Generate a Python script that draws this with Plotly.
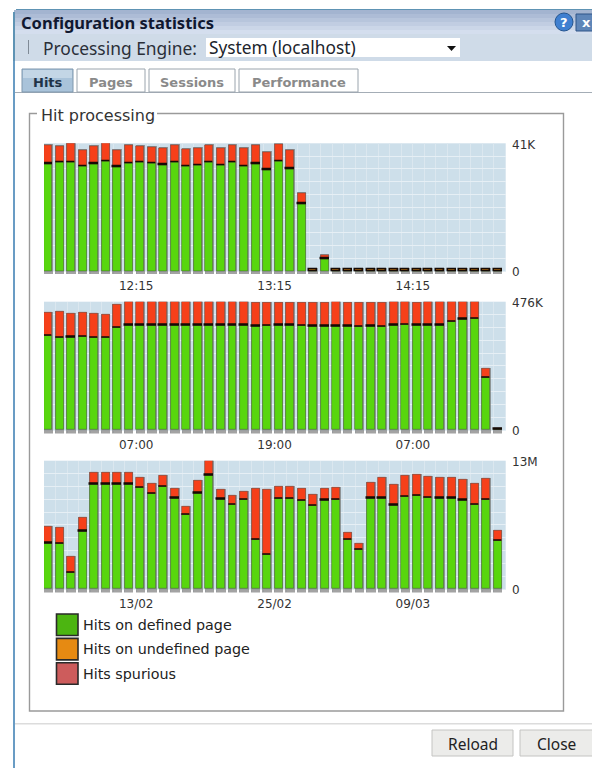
import plotly.graph_objects as go

W, H = 592, 768
FONT = "DejaVu Sans"
UI = "Noto Sans"

# ---------- data ----------
hours_defined = [34.4,34.8,34.9,33.5,34.4,35.2,33.4,34.5,34.8,34.5,34.0,34.8,33.5,33.9,34.8,33.9,34.8,33.5,34.4,32.4,35.2,32.8,21.5,0,3.9,
                 0,0,0,0,0,0,0,0,0,0,0,0,0,0,0]
hours_undefined = [0.1]*23 + [0.5, 0.1] + [0.5]*15
hours_spurious = [5.8,5.0,6.1,5.1,5.4,6.0,5.1,5.7,5.1,5.2,5.4,5.4,5.4,5.4,5.4,5.5,5.4,5.9,5.7,5.6,5.4,5.8,3.5,0,1.0,
                  0,0,0,0,0,0,0,0,0,0,0,0,0,0,0]
days_defined = [348.6,342.4,343.6,346.1,341.1,341.1,378.2,388.1,388.1,388.1,388.1,388.1,388.1,388.1,388.1,388.1,388.1,388.1,
                384.4,385.6,388.1,388.1,385.6,384.4,384.4,384.4,384.4,383.2,384.4,383.2,388.1,389.3,388.1,388.1,388.1,401.7,410.4,412.8,192.8,0]
days_undefined = [1.0]*39 + [5.5]
days_spurious = [86.5,93.9,85.3,87.8,87.8,86.5,85.3,86.5,86.5,86.5,86.5,86.5,86.5,86.5,86.5,86.5,86.5,85.3,
                 85.3,85.3,84.0,84.0,85.3,86.5,86.5,93.9,85.3,86.5,85.3,86.5,85.3,86.5,84.0,86.5,86.5,74.2,64.3,63.0,33.4,0]
months_defined = [4.63,4.56,1.65,5.84,10.60,10.60,10.60,10.60,10.27,9.62,10.37,9.19,7.50,9.69,11.52,9.08,8.54,9.05,5.00,3.44,
                  9.12,9.12,8.92,8.41,8.98,9.05,5.00,3.98,9.19,9.19,8.48,9.32,9.46,9.25,9.19,9.19,8.98,8.51,9.05,4.90]
months_undefined = [0.04]*40
months_spurious = [1.69,1.65,1.59,1.35,1.18,1.18,1.18,1.18,1.01,1.01,1.05,0.95,0.84,1.22,1.52,0.91,0.88,0.81,5.17,6.62,
                   1.25,1.22,1.22,1.11,1.18,1.22,0.71,0.57,1.59,2.09,2.06,2.09,2.09,2.06,2.09,2.09,2.06,2.09,2.09,0.98]

hours_ticks = ["12:15", "13:15", "14:15"]
days_ticks = ["07:00", "19:00", "07:00"]
months_ticks = ["13/02", "25/02", "09/03"]
tick_slots = [8, 20, 32]
y_labels = [["0", "41K"], ["0", "476K"], ["0", "13M"]]
y_maxima = [41, 476, 13]
legend_names = ["Hits on defined page", "Hits on undefined page", "Hits spurious"]
legend_colors = ["#4cb511", "#e68a12", "#cd5c5c"]

GREEN, ORANGE, RED = "#58d60e", "#e68a12", "#f6401a"
PANELS = [
    (hours_defined, hours_undefined, hours_spurious, hours_ticks, 143.3, 271.0),
    (days_defined, days_undefined, days_spurious, days_ticks, 301.7, 430.0),
    (months_defined, months_undefined, months_spurious, months_ticks, 460.7, 589.0),
]
LEFT, RIGHT = 44.0, 505.7
PITCH = (RIGHT - LEFT) / 40.05
X0 = -0.35
STUB = 3.4      # px of shadow under the baseline

fig = go.Figure()
layout = {}
xs = list(range(40))
masks = []

for i, (g, u, r, labels, top, bottom) in enumerate(PANELS):
    n = "" if i == 0 else str(i + 1)
    xa, ya = "x" + n, "y" + n
    ymax = y_maxima[i]
    unit = ymax / (bottom - top)            # data units per pixel
    total = [a + b + c for a, b, c in zip(g, u, r)]
    below = STUB * unit
    above = 1.0 * unit
    masks.append((bottom + 0.5, bottom + STUB + 1))

    # grey drop shadow behind each stack, stub under the baseline
    fig.add_trace(go.Bar(x=xs, y=[t + above + below for t in total], base=[-below] * 40, width=0.82,
                         marker=dict(color="rgba(120,120,120,0.68)", line=dict(width=0)),
                         xaxis=xa, yaxis=ya, cliponaxis=False, hoverinfo="skip", showlegend=False))
    fig.add_trace(go.Bar(x=xs, y=g, base=[0] * 40, width=0.69, name=legend_names[0],
                         marker=dict(color=GREEN, line=dict(width=0.8, color="rgba(70,100,50,0.7)")),
                         xaxis=xa, yaxis=ya, cliponaxis=False, showlegend=False))
    fig.add_trace(go.Bar(x=xs, y=r, base=[a + b for a, b in zip(g, u)], width=0.69, name=legend_names[2],
                         marker=dict(color=RED, line=dict(width=0.8, color="rgba(110,70,60,0.7)")),
                         xaxis=xa, yaxis=ya, cliponaxis=False, showlegend=False))
    fig.add_trace(go.Bar(x=xs, y=u, base=g, width=0.69, name=legend_names[1],
                         marker=dict(color=ORANGE, line=dict(width=1.5, color="#150a05")),
                         xaxis=xa, yaxis=ya, cliponaxis=False, showlegend=False))

    slots = [X0 + k for k in range(41)]
    text = [""] * 41
    for s, lab in zip(tick_slots, labels):
        text[s] = lab
    ysteps = [ymax * k / 10 for k in range(11)]
    ytext = [""] * 11
    ytext[0], ytext[10] = y_labels[i]

    layout["xaxis" + n] = dict(domain=[LEFT / W, RIGHT / W], range=[X0, X0 + (RIGHT - LEFT) / PITCH],
                               anchor=ya, tickmode="array", tickvals=slots, ticktext=text, showgrid=True,
                               gridcolor="#dbe7ef", gridwidth=1, zeroline=False, showline=False,
                               ticks="outside", ticklen=0, tickcolor="rgba(0,0,0,0)", tickangle=0,
                               tickfont=dict(family=FONT, size=12, color="#333333"), fixedrange=True)
    layout["yaxis" + n] = dict(domain=[1 - (bottom + STUB) / H, 1 - top / H], range=[-below, ymax], anchor=xa,
                               side="right", tickmode="array", tickvals=ysteps, ticktext=ytext, showgrid=True,
                               gridcolor="#e6eff5", gridwidth=1.3, zeroline=False, showline=False,
                               ticks="outside", ticklen=3, tickcolor="rgba(0,0,0,0)", ticklabelshift=1,
                               tickfont=dict(family=FONT, size=12, color="#333333"), fixedrange=True)

# ---------- window chrome ----------
shapes, notes = [], []


def rect(x0, y0, x1, y1, fill, line=None, lw=1):
    shapes.append(dict(type="rect", xref="paper", yref="paper", layer="below",
                       x0=x0 / W, x1=x1 / W, y0=1 - y0 / H, y1=1 - y1 / H, fillcolor=fill,
                       line=dict(color=line or "rgba(0,0,0,0)", width=lw if line else 0)))


def label(x, y, s, size=12, color="#222222", fam=FONT, bold=False, anchor="left"):
    notes.append(dict(xref="paper", yref="paper", x=x / W, y=1 - y / H, text=f"<b>{s}</b>" if bold else s,
                      showarrow=False, xanchor=anchor, yanchor="middle",
                      font=dict(family=fam, size=size, color=color), borderpad=0, borderwidth=0))


# white strip hiding the plot background behind the shadow stubs
for y0, y1 in masks:
    rect(LEFT - 1, y0, RIGHT + 1, y1, "#ffffff")

# title bar gradient
bar = ["#a3b4d0", "#adbcd6", "#b7c5dc", "#c1cde2", "#cbd6e8", "#d4deee"]
rect(14, 10, W, 34, "#d4deee")
for k, c in enumerate(bar):
    rect(14, 10 + k * 4, W, 14 + k * 4, c)
rect(16, 9, W, 10, "#5e93b4")
# toolbar
rect(15, 34, W, 61, "#cfdbe8")
rect(28, 40, 29, 54, "#7f8a96")
rect(206, 38, 460, 57, "#ffffff")
# tabs
rect(15, 92, W, 93, "#a4adb6")
tab_edges = [(22, 73), (77, 145), (149, 235), (239, 358)]
for k, (a, b) in enumerate(tab_edges):
    if k == 0:
        rect(a, 69, b, 92, "#a9c3da", "#7e97ad", 1)
        rect(a + 1, 70, b - 1, 78, "#c3d6e6")
    else:
        rect(a, 69, b, 92, "#ffffff", "#9aa4ad", 1)
# left border
rect(13, 61, 15, H, "#699cc4")
rect(13, 12, 15, 61, "#5e93b4")
# group box (no fill, so the plot backgrounds stay visible)
rect(29.5, 113.5, 563.5, 711, "rgba(0,0,0,0)", "#9a9a9a", 1.4)
rect(37, 106, 157, 122, "#ffffff")
# legend swatches
for k, c in enumerate(legend_colors):
    rect(56.5, 614 + k * 24.4, 78, 635.5 + k * 24.4, c, "#2a2a2a", 1.6)
# footer line and buttons
rect(15, 723, W, 724.5, "#dcdcdc")
rect(432, 730, 513, 756, "#ececea", "#c4c4c2", 1)
rect(520, 730, 600, 756, "#ececea", "#c4c4c2", 1)
# help / close icons
shapes.append(dict(type="circle", xref="paper", yref="paper", layer="below", x0=555 / W, x1=573 / W,
                   y0=1 - 31 / H, y1=1 - 13 / H, fillcolor="#3f7fd0", line=dict(color="#24558f", width=1)))
rect(576, 14, 596, 31, "#5f86b8", "#2f5587", 1)
# dropdown arrow
shapes.append(dict(type="path", xref="paper", yref="paper", layer="above",
                   path=f"M {447/W} {1-46/H} L {456/W} {1-46/H} L {451.5/W} {1-51/H} Z",
                   fillcolor="#111111", line=dict(width=0)))

label(21, 22, "Configuration statistics", 16.5, "#101830", UI, True)
label(43, 47.5, "Processing Engine:", 17.4, "#2a2f38", UI)
label(209, 47.5, "System (localhost)", 17.3, "#20242c", UI)
label(564, 22, "?", 13, "#ffffff", FONT, True, "center")
label(586, 22.5, "x", 13, "#ffffff", FONT, True, "center")
for (a, b), s, c in zip(tab_edges, ["Hits", "Pages", "Sessions", "Performance"],
                        ["#1f3348", "#8a8a8a", "#8a8a8a", "#8a8a8a"]):
    label((a + b) / 2, 82.5, s, 13, c, FONT, True, "center")
label(41, 115.5, "Hit processing", 16, "#333333", FONT)
for k, s in enumerate(legend_names):
    label(83, 625 + k * 24.4, s, 14.3, "#222222")
label(472.5, 744, "Reload", 15.5, "#222222", UI, False, "center")
label(556.5, 744, "Close", 15.5, "#222222", UI, False, "center")

fig.update_layout(width=W, height=H, autosize=False, margin=dict(l=0, r=0, t=0, b=0, pad=0, autoexpand=False),
                  barmode="overlay", bargap=0, paper_bgcolor="#ffffff", plot_bgcolor="#cddfea",
                  showlegend=False, shapes=shapes, annotations=notes, **layout)
fig.write_html("out.html", config={"displayModeBar": False},
               post_script="document.body.style.margin='0';document.body.style.overflow='hidden';")
